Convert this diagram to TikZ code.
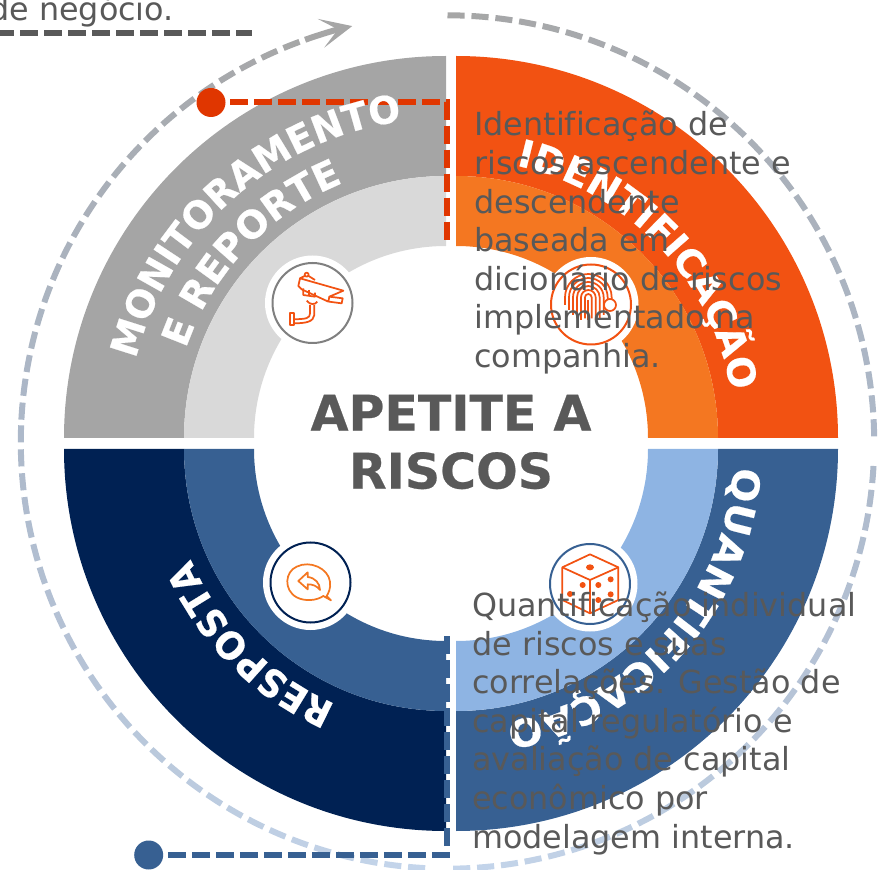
\documentclass[tikz,border=0pt]{standalone}
\usepackage{fontspec}
\setmainfont{DejaVu Sans}[Ligatures=NoCommon]
\newfontface\heavyface{DejaVu Sans Bold}[FakeBold=0.5]
\usepackage{xcolor}
\usetikzlibrary{arrows.meta}
\usetikzlibrary{decorations.text}
\definecolor{idout}{HTML}{F25212}
\definecolor{idin}{HTML}{F47721}
\definecolor{quout}{HTML}{376092}
\definecolor{quin}{HTML}{8EB4E3}
\definecolor{renavy}{HTML}{002153}
\definecolor{mogray}{HTML}{A5A5A5}
\definecolor{molight}{HTML}{D9D9D9}
\definecolor{txtgray}{HTML}{595959}
\definecolor{reddash}{HTML}{E03600}
\definecolor{ringgray}{HTML}{A6A6A6}
\definecolor{ringslate}{HTML}{ADB9CA}
\definecolor{ringlight}{HTML}{C5D6EC}
\newcommand{\curvefont}{\fontsize{28.5}{30}\heavyface\color{white}}
\tikzset{
  ringdash/.style={line width=4.5pt},
  linkdash/.style={line width=4.5pt,dash pattern=on 13.5pt off 4.5pt},
  dot/.style={circle,minimum size=21.75pt,inner sep=0pt,outer sep=3.5pt},
  desc/.style={anchor=north west,align=left,inner sep=0pt,text=txtgray,font=\fontsize{23.85}{28.95}\selectfont},
  halo/.style={circle,fill=white,minimum size=71.25pt,inner sep=0pt},
  iconring/.style={circle,fill=white,line width=1.5pt,minimum size=60pt,inner sep=0pt},
  iconline/.style={line width=1.3pt,line join=round},
  curved/.style={decorate,decoration={text along path,text align=center,text={#1}}}
}
\begin{document}
\begin{tikzpicture}[x=0.75pt,y=0.75pt]
\useasboundingbox (0,0) rectangle (879,869);
\clip (0,0) rectangle (879,869);
%%% The ring of dashes around the wheel
\foreach \a in {0,3.22,...,90} {
  \pgfmathsetmacro\p{\a/90*100}
  \draw[ringdash,color=ringslate!\p!ringgray] (447.5,427)++({90-\a}:426.7) arc ({90-\a}:{90-\a-2.3}:426.7);
}
\foreach \a in {93.22,96.44,...,180} {
  \pgfmathsetmacro\p{(\a-90)/90*100}
  \draw[ringdash,color=ringlight!\p!ringslate] (447.5,427)++({90-\a}:426.7) arc ({90-\a}:{90-\a-2.3}:426.7);
}
\foreach \a in {183,186.22,...,270} {
  \pgfmathsetmacro\p{(\a-180)/90*100}
  \draw[ringdash,color=ringslate!\p!ringlight] (447.5,427)++({90-\a}:426.7) arc ({90-\a}:{90-\a-2.3}:426.7);
}
\foreach \a in {273,276.22,...,338} {
  \pgfmathsetmacro\p{(\a-270)/70*100}
  \draw[ringdash,color=ringgray!\p!ringslate] (447.5,427)++({90-\a}:426.7) arc ({90-\a}:{90-\a-2.3}:426.7);
}
\draw[line width=4.5pt,color=ringgray,-{Stealth[length=24pt,width=22pt,inset=13pt]}] (447.5,427)++(109.5:426.7) arc (109.5:102.9:426.7);
%%% The four quarters, outer band then inner band
\fill[mogray] (64,431) arc (180:90:382) -- (446,693) arc (90:180:262) -- cycle;
\fill[molight] (184,431) arc (180:90:262) -- (446,623) arc (90:180:192) -- cycle;
\fill[idout] (456,813) arc (90:0:382) -- (718,431) arc (0:90:262) -- cycle;
\fill[idin] (456,693) arc (90:0:262) -- (648,431) arc (0:90:192) -- cycle;
\fill[quout] (838,420) arc (0:-90:382) -- (456,158) arc (-90:0:262) -- cycle;
\fill[quin] (718,420) arc (0:-90:262) -- (456,228) arc (-90:0:192) -- cycle;
\fill[renavy] (64,420) arc (180:270:382) -- (446,158) arc (270:180:262) -- cycle;
\fill[quout] (184,420) arc (180:270:262) -- (446,228) arc (270:180:192) -- cycle;
%%% Icon circles
\node[halo] (halomon) at (312.5,566) {};
\node[halo] (haloide) at (591,564.5) {};
\node[halo] (haloqua) at (590,285) {};
\node[halo] (halores) at (310.5,286.5) {};
\node[iconring,draw=black!50] (ringmon) at (312.5,566) {};
\node[iconring,draw=idout] (ringide) at (591,564.5) {};
\node[iconring,draw=quout] (ringqua) at (590,285) {};
\node[iconring,draw=renavy] (ringres) at (310.5,286.5) {};
%%% Camera
\begin{scope}[shift={(260,619)},x=0.25pt,y=-0.25pt,iconline,draw=idout]
\draw (115,108) -- (120,85) -- (250,122) -- (208,140) -- (205,155) -- (125,118) -- cycle;
\draw (120,85) -- (134,78) (146,78) -- (165,90);
\draw (140,74) circle (6);
\draw (208,140) -- (248,145) -- (245,160) -- (207,155);
\draw (130,115) -- (130,135) -- (165,140) -- (165,128);
\draw (147,120) -- (147,137);
\draw (140,152) .. controls (150,165) and (165,165) .. (172,155);
\draw (150,165) -- (150,190) .. controls (150,205) and (140,207) .. (100,208);
\draw (163,165) -- (163,195) .. controls (160,215) and (140,220) .. (100,220);
\draw (90,190) -- (90,225) -- (101,225) -- (101,190) -- cycle;
\end{scope}
%%% Fingerprint
\begin{scope}[shift={(540,619)},x=0.25pt,y=-0.25pt,iconline,draw=idout]
\foreach \r/\b in {10/205,22/210,34/205,46/195,58/180,70/165} {
  \draw (145-\r,\b) -- (145-\r,142) arc (180:360:\r) -- (145+\r,\b);
}
\draw (145,150) -- (145,210);
\filldraw[fill=white] (210,165) circle (18);
\end{scope}
%%% Die
\begin{scope}[shift={(540,869-535)},x=0.25pt,y=-0.25pt,iconline,draw=idout]
\draw (150,58) -- (235,97) -- (235,195) -- (150,235) -- (67,195) -- (67,97) -- cycle;
\draw (67,97) -- (150,135) -- (235,97) (150,135) -- (150,235);
\fill[idout] (150,97) ellipse (12 and 9);
\foreach \x/\y in {128/150,90/177,175/150,212/133,212/178,175/195} {
  \fill[idout] (\x,\y) circle (9);
}
\end{scope}
%%% Reply bubble
\begin{scope}[shift={(260,869-535)},x=0.25pt,y=-0.25pt,iconline,draw=idin]
\draw (190,183) .. controls (170,197) and (135,200) .. (110,187) .. controls (70,165) and (75,110) .. (110,95) .. controls (150,75) and (205,100) .. (210,140) .. controls (213,160) and (205,175) .. (200,183) -- (213,196) -- cycle;
\draw (115,138) -- (143,112) -- (143,126) .. controls (165,128) and (180,145) .. (180,165) .. controls (170,152) and (158,148) .. (143,148) -- (143,163) -- cycle;
\end{scope}
%%% Lines from the dots
\node[dot,fill=reddash] (dotmon) at (211,766.5) {};
\coordinate (cornermon) at (447,766.5);
\coordinate (endmon) at (447,629);
\draw[linkdash,reddash] (dotmon) -- (cornermon) -- (endmon);
\node[dot,fill=quout] (dotres) at (148.7,14) {};
\coordinate (cornerres) at (447,14);
\coordinate (endres) at (447,234);
\draw[linkdash,quout] (dotres) -- (cornerres) -- (endres);
%%% Band titles
\path[curved={|\curvefont\addfontfeature{FakeStretch=0.98}|MONITORAMENTO}] (446,431)++(181.8:320) arc (181.8:81.8:320);
\path[curved={|\curvefont|E REPORTE}] (446,431)++(166.5:275) arc (166.5:106.5:275);
\path[curved={|\curvefont|IDENTIFICAÇÃO}] (456,431)++(93.6:279) arc (93.6:-6.4:279);
\path[curved={|\curvefont\addfontfeature{FakeStretch=1.05}|QUANTIFICAÇÃO}] (456,420)++(8.3:278) arc (8.3:-91.7:278);
\path[curved={|\curvefont\addfontfeature{FakeStretch=0.93}|RESPOSTA}] (446,420)++(270:278) arc (270:180:278);
%%% Texts
\node[anchor=center,align=center,text=txtgray,font=\fontsize{36.75}{43.5}\heavyface] (title) at (451,427) {APETITE A\\RISCOS};
\node[anchor=base west,inner sep=0pt,text=txtgray,font=\fontsize{23.85}{28.95}\selectfont] (topline) at (-11,848) {de negócio.};
\coordinate (topstart) at (-4,835.5);
\coordinate (topend) at (252,835.5);
\draw[linkdash,txtgray] (topstart) -- (topend);
\node[desc] (descide) at (474,758) {Identificação de\\riscos ascendente e\\descendente\\baseada em\\dicionário de riscos\\implementado na\\companhia.};
\node[desc] (descqua) at (472,277.5) {Quantificação individual\\de riscos e suas\\correlações. Gestão de\\capital regulatório e\\avaliação de capital\\econômico por\\modelagem interna.};
\end{tikzpicture}
\end{document}
